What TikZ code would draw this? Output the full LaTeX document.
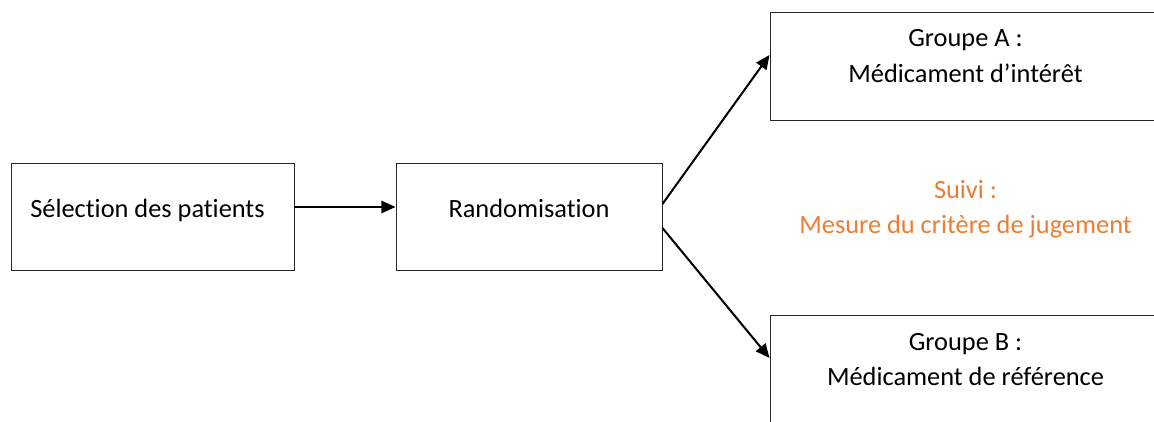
\documentclass[tikz,border=0pt]{standalone}
\usepackage{fontspec}
\setmainfont{Carlito}[Ligatures=NoCommon]
\usepackage{tikz}
\usetikzlibrary{arrows.meta}
\definecolor{suiviorange}{RGB}{237,125,49}

\begin{document}
\begin{tikzpicture}[
  box/.style={draw=black!85, line width=0.55pt, rectangle, inner sep=0pt},
  lbl/.style={font=\fontsize{15pt}{20.2pt}\selectfont, inner sep=0pt, anchor=base, align=center},
  fleche/.style={line width=1.15pt, -{Triangle[length=8pt,width=7pt]}}
]
\clip (0,0) rectangle (23.08,8.42);
\node [box, minimum width=5.66cm, minimum height=2.14cm] (sel) at (3.05,4.09) {};
\node [box, minimum width=5.32cm, minimum height=2.14cm] (rand) at (10.58,4.09) {};
\node [box, minimum width=7.8cm, minimum height=2.16cm] (grpA) at (19.3,7.1) {};
\node [box, minimum width=7.8cm, minimum height=2.16cm] (grpB) at (19.3,1.04) {};
\node [lbl, anchor=base west] (selt) at (0.6,4.07) {Sélection des patients};
\node [lbl] (randt) at (10.58,4.07) {Randomisation};
\node [lbl] (grpAt) at (19.31,6.78) {Groupe A :\\Médicament d’intérêt};
\node [lbl, text=suiviorange] (suivi) at (19.31,3.75) {Suivi :\\Mesure du critère de jugement};
\node [lbl] (grpBt) at (19.31,0.71) {Groupe B :\\Médicament de référence};
\draw [fleche] ([yshift=0.19cm]sel.east) -- ([yshift=0.19cm]rand.west);
\draw [fleche] ([yshift=0.25cm]rand.east) -- ([yshift=0.22cm]grpA.west);
\draw [fleche] ([yshift=-0.23cm]rand.east) -- ([yshift=0.22cm]grpB.west);
\end{tikzpicture}
\end{document}
